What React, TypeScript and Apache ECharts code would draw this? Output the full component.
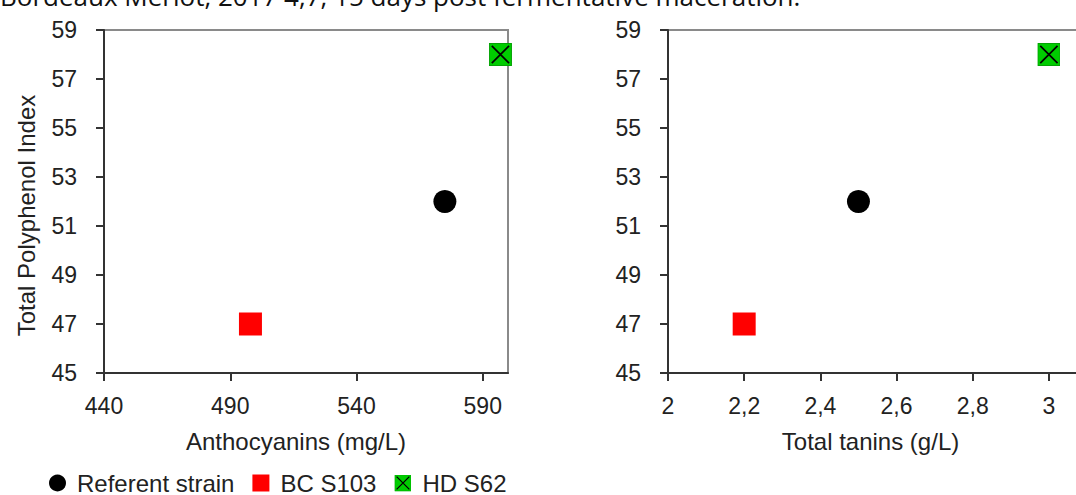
import React, { useEffect, useRef } from "react";
import * as echarts from "echarts";

const seriesNames = ["Referent strain", "BC S103", "HD S62"];
const anthocyanins = [575, 498, 597];
const tanins = [2.5, 2.2, 3.0];
const polyphenolIndex = [52, 47, 58];
const anthoTicks = [440, 490, 540, 590];
const taninTicks = [2, 2.2, 2.4, 2.6, 2.8, 3];
const captionText = "Bordeaux Merlot, 2017 4,7, 15 days post fermentative maceration.";

const hdSvg =
  "<svg xmlns='http://www.w3.org/2000/svg' width='24' height='24' viewBox='0 0 24 24'>" +
  "<rect x='0.5' y='0.5' width='23' height='23' fill='#00cc00' stroke='#00a000' stroke-width='1'/>" +
  "<path d='M3 3L21 21M21 3L3 21' stroke='#000' stroke-width='1.8' fill='none'/></svg>";
const hdSymbol = "image://data:image/svg+xml;charset=utf-8," + encodeURIComponent(hdSvg);

const symbols = ["circle", "rect", hdSymbol];
const colors = ["#000000", "#ff0000", "#00cc00"];

const FONT = "Liberation Sans, Arial, sans-serif";

export default function App() {
  const ref = useRef<HTMLDivElement>(null);
  useEffect(() => {
    if (!ref.current) return;
    const chart = echarts.init(ref.current, undefined, { renderer: "svg" });
    const axisLine = { show: true, lineStyle: { color: "#333", width: 2 } };
    const axisTick = { show: true, inside: false, length: 8, lineStyle: { color: "#333", width: 2 } };
    const labelStyle = { color: "#222", fontSize: 23, fontFamily: FONT };
    const series: any[] = [];
    seriesNames.forEach((name, i) => {
      series.push({
        name,
        type: "scatter",
        xAxisIndex: 0,
        yAxisIndex: 0,
        symbol: symbols[i],
        symbolSize: 23,
        itemStyle: { color: colors[i], opacity: 1 },
        data: [[anthocyanins[i], polyphenolIndex[i]]],
      });
      series.push({
        name,
        type: "scatter",
        xAxisIndex: 1,
        yAxisIndex: 1,
        symbol: symbols[i],
        symbolSize: 23,
        itemStyle: { color: colors[i], opacity: 1 },
        data: [[tanins[i], polyphenolIndex[i]]],
      });
    });
    const yAxisBase = {
      type: "value",
      min: 45,
      max: 59,
      interval: 2,
      axisLine,
      axisTick,
      splitLine: { show: false },
      axisLabel: { ...labelStyle, margin: 27 },
    };
    chart.setOption({
      animation: false,
      textStyle: { fontFamily: FONT },
      graphic: [
        {
          type: "text",
          left: 0,
          top: -17,
          style: {
            text: captionText,
            fontFamily: "Open Sans, sans-serif",
            fontSize: 26,
            fill: "#111",
          },
        },
      ],
      legend: {
        data: seriesNames,
        left: 44,
        top: 466,
        itemWidth: 17,
        itemHeight: 17,
        itemGap: 18,
        textStyle: { color: "#222", fontSize: 24, fontFamily: FONT, padding: [0, 0, 0, 6] },
      },
      grid: [
        { left: 104, top: 30, width: 404, height: 343, show: true, borderColor: "#8a8a8a", borderWidth: 2, containLabel: false },
        { left: 668, top: 30, width: 419, height: 343, show: true, borderColor: "#8a8a8a", borderWidth: 2, containLabel: false },
      ],
      xAxis: [
        {
          type: "value",
          gridIndex: 0,
          min: 440,
          max: 600,
          interval: 10,
          axisLine,
          axisTick: { ...axisTick, customValues: anthoTicks },
          splitLine: { show: false },
          axisLabel: { ...labelStyle, margin: 21, customValues: anthoTicks },
          name: "Anthocyanins (mg/L)",
          nameLocation: "middle",
          nameGap: 56,
          nameTextStyle: { color: "#222", fontSize: 24, fontFamily: FONT, padding: [0, 20, 0, 0] },
        },
        {
          type: "value",
          gridIndex: 1,
          min: 2,
          max: 3.1,
          interval: 0.1,
          axisLine,
          axisTick: { ...axisTick, customValues: taninTicks },
          splitLine: { show: false },
          axisLabel: {
            ...labelStyle,
            margin: 21,
            customValues: taninTicks,
            formatter: (v: number) => String(Math.round(v * 10) / 10).replace(".", ","),
          },
          name: "Total tanins (g/L)",
          nameLocation: "middle",
          nameGap: 56,
          nameTextStyle: { color: "#222", fontSize: 24, fontFamily: FONT, padding: [0, 14, 0, 0] },
        },
      ],
      yAxis: [
        {
          ...yAxisBase,
          gridIndex: 0,
          name: "Total Polyphenol Index",
          nameLocation: "middle",
          nameGap: 66,
          nameTextStyle: { color: "#222", fontSize: 24, fontFamily: FONT, padding: [0, 28, 0, 0] },
        },
        { ...yAxisBase, gridIndex: 1 },
      ],
      series,
    });
    return () => chart.dispose();
  }, []);
  return (
    <div style={{ position: "fixed", left: 0, top: 0, width: 1076, height: 495, overflow: "hidden", background: "#fff" }}>
      <div ref={ref} style={{ width: 1100, height: 495 }} />
    </div>
  );
}
